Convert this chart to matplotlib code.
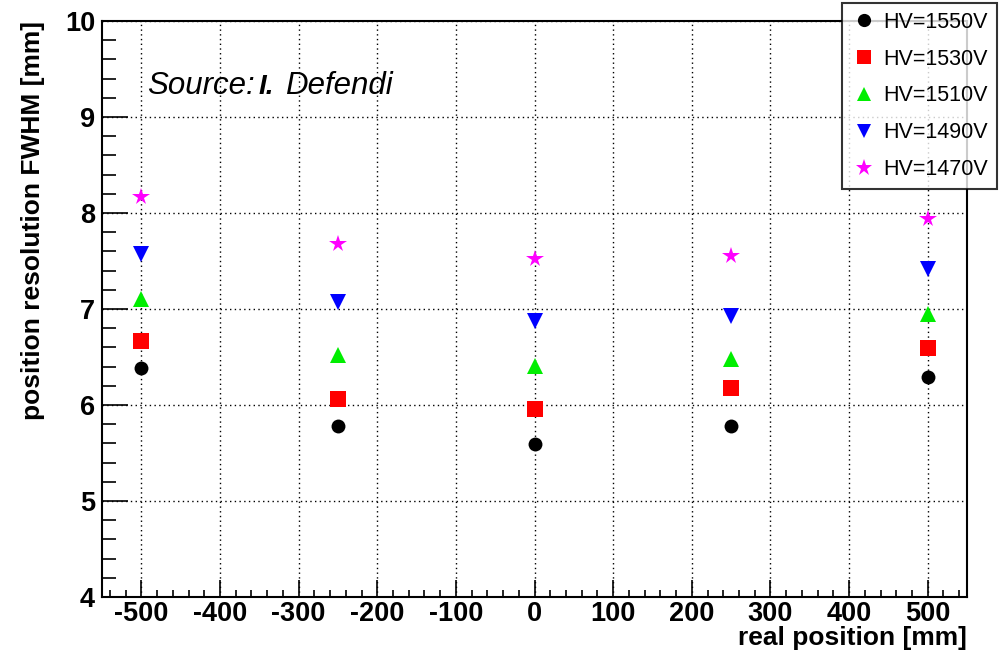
import matplotlib
matplotlib.use('Agg')
import matplotlib.pyplot as plt
from matplotlib.ticker import MultipleLocator
from matplotlib.lines import Line2D
from matplotlib.transforms import offset_copy

plt.rcParams['font.family'] = ['Liberation Sans', 'DejaVu Sans']
plt.rcParams['axes.unicode_minus'] = False

positions = [-500, -250, 0, 250, 500]
labels = ['HV=1550V', 'HV=1530V', 'HV=1510V', 'HV=1490V', 'HV=1470V']
res_1550 = [6.39, 5.78, 5.59, 5.78, 6.29]
res_1530 = [6.67, 6.06, 5.96, 6.18, 6.59]
res_1510 = [7.10, 6.52, 6.41, 6.48, 6.95]
res_1490 = [7.57, 7.07, 6.88, 6.93, 7.42]
res_1470 = [8.17, 7.68, 7.52, 7.55, 7.94]

series = [res_1550, res_1530, res_1510, res_1490, res_1470]
markers = ['o', 's', '^', 'v', '*']
colors = ['black', '#ff0000', '#00ee00', '#0000ff', '#ff00ff']
sizes = [10, 11, 11, 11, 13]

fig = plt.figure(figsize=(10.01, 6.5), dpi=100)
ax = fig.add_axes([102 / 1001, 1 - 597 / 650, (967 - 102) / 1001, (597 - 21) / 650])

for vals, m, c, s in zip(series, markers, colors, sizes):
    ax.plot(positions, vals, linestyle='none', marker=m, color=c,
            markersize=s, markeredgewidth=0, zorder=3)

ax.set_xlim(-550, 550)
ax.set_ylim(4, 10)
ax.xaxis.set_major_locator(MultipleLocator(100))
ax.xaxis.set_minor_locator(MultipleLocator(20))
ax.yaxis.set_major_locator(MultipleLocator(1))
ax.yaxis.set_minor_locator(MultipleLocator(0.2))
ax.tick_params(which='both', direction='in', top=False, right=False, width=1.2, labelsize=19.5)
ax.tick_params(axis='y', which='major', length=19, pad=5)
ax.tick_params(axis='y', which='minor', length=10)
ax.tick_params(axis='x', which='major', length=12, pad=3)
ax.tick_params(axis='x', which='minor', length=5)
for lab in ax.get_xticklabels() + ax.get_yticklabels():
    lab.set_fontweight('bold')
ax.grid(True, which='major', linestyle=(0, (1, 2.4)), color='black', linewidth=1.0)
for sp in ax.spines.values():
    sp.set_linewidth(1.5)

ax.set_xlabel('real position [mm]', fontsize=19, fontweight='bold', loc='right', labelpad=-1)
ax.set_ylabel('position resolution FWHM [mm]', fontsize=19, fontweight='bold', loc='top', labelpad=14)

# "Source: I. Defendi" with a bold initial, pieces placed by pixel offsets
src_x, src_y = 0.052, 0.888
ax.text(src_x, src_y, 'Source:', transform=ax.transAxes, fontsize=22.5,
        style='italic', ha='left', va='center')
ax.text(src_x, src_y, 'I.', fontsize=20, style='italic', fontweight='bold',
        ha='left', va='center',
        transform=offset_copy(ax.transAxes, fig=fig, x=112, y=-1, units='dots'))
ax.text(src_x, src_y, 'Defendi', fontsize=22.5, style='italic', ha='left', va='center',
        transform=offset_copy(ax.transAxes, fig=fig, x=138, y=0, units='dots'))

handles = [Line2D([], [], linestyle='none', marker=m, color=c, markersize=s * 0.95,
                  markeredgewidth=0) for m, c, s in zip(markers, colors, sizes)]
leg = fig.legend(handles, labels, loc='upper right', bbox_to_anchor=(997 / 1001, 1 - 3 / 650),
                 fontsize=15.5, frameon=True, fancybox=False, borderpad=0.4,
                 labelspacing=0.74, handletextpad=0.25, handlelength=1.3,
                 borderaxespad=0)
leg.get_frame().set_edgecolor('black')
leg.get_frame().set_linewidth(1.5)

fig.savefig('out.png', dpi=100)
